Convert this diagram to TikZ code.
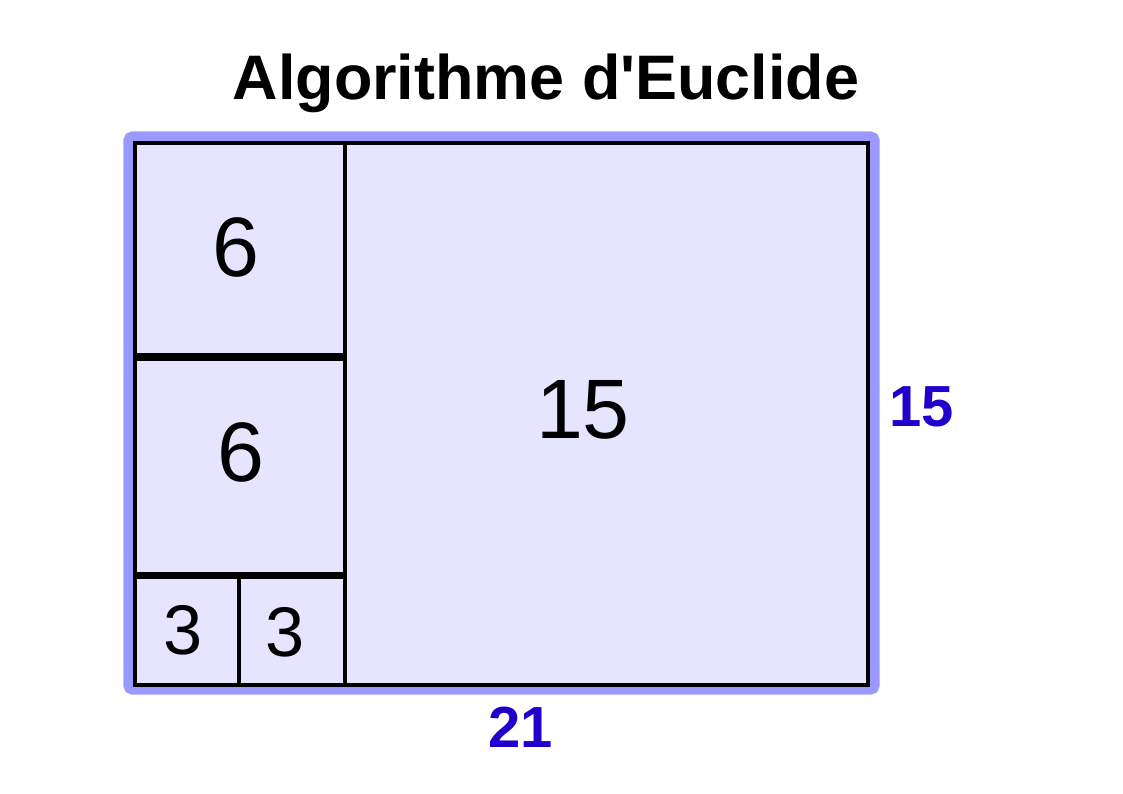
\documentclass[tikz,border=0pt]{standalone}
\usepackage{fontspec}
\setmainfont{Liberation Sans}
\usetikzlibrary{positioning}
\definecolor{cadre}{RGB}{153,153,255}
\definecolor{fond}{RGB}{229,229,255}
\definecolor{bleucote}{RGB}{34,0,204}
\newcommand{\apos}{\XeTeXglyph\XeTeXcharglyph"27\relax}
\tikzset{
	carre/.style = {rectangle, draw = black, line width = 2.3pt, inner sep = 0pt, outer sep = 0pt},
	grand/.style = {font = \fontsize{48}{48}\selectfont, inner sep = 0pt},
	petit/.style = {font = \fontsize{40}{40}\selectfont, inner sep = 0pt},
	dim/.style = {font = \bfseries\fontsize{33}{33}\selectfont, text = bleucote, inner sep = 0pt},
	titre/.style = {font = \bfseries\fontsize{35.8}{36}\selectfont, inner sep = 0pt}
}

\begin{document}
\begin{tikzpicture}[x = 0.02cm, y = -0.02cm]
	\useasboundingbox (0,0) rectangle (1123,794);

	% titre
	\node (titre) [titre, anchor = base] at (546,100) {Algorithme d\apos Euclide};

	% cadre bleu
	\draw [cadre, fill = fond, line width = 6.5pt, rounded corners = 0.08cm] (129,137) rectangle (874,689);

	%% carres
	\node (c6a) [carre, minimum width = 4.2cm, minimum height = 4.24cm] at (240,249) {};
	\node (c6b) [carre, minimum width = 4.2cm, minimum height = 4.3cm] at (240,466.5) {};
	\node (c3a) [carre, minimum width = 2.08cm, minimum height = 2.16cm] at (187,631) {};
	\node (c3b) [carre, minimum width = 2.12cm, minimum height = 2.16cm, right = 0pt of c3a] {};
	\node (c15) [carre, minimum width = 10.46cm, minimum height = 10.84cm] at (606.5,414) {};

	% nombres
	\node (n6a) [grand] at (236,247) {6};
	\node (n6b) [grand] at (241,452) {6};
	\node (n3a) [petit] at (183,630) {3};
	\node (n3b) [petit] at (285,632) {3};
	\node (n15) [grand] at (583,410) {15};

	% cotes
	\node (haut) [dim] at (922,407) {15};
	\node (larg) [dim] at (521,727) {21};
\end{tikzpicture}
\end{document}
